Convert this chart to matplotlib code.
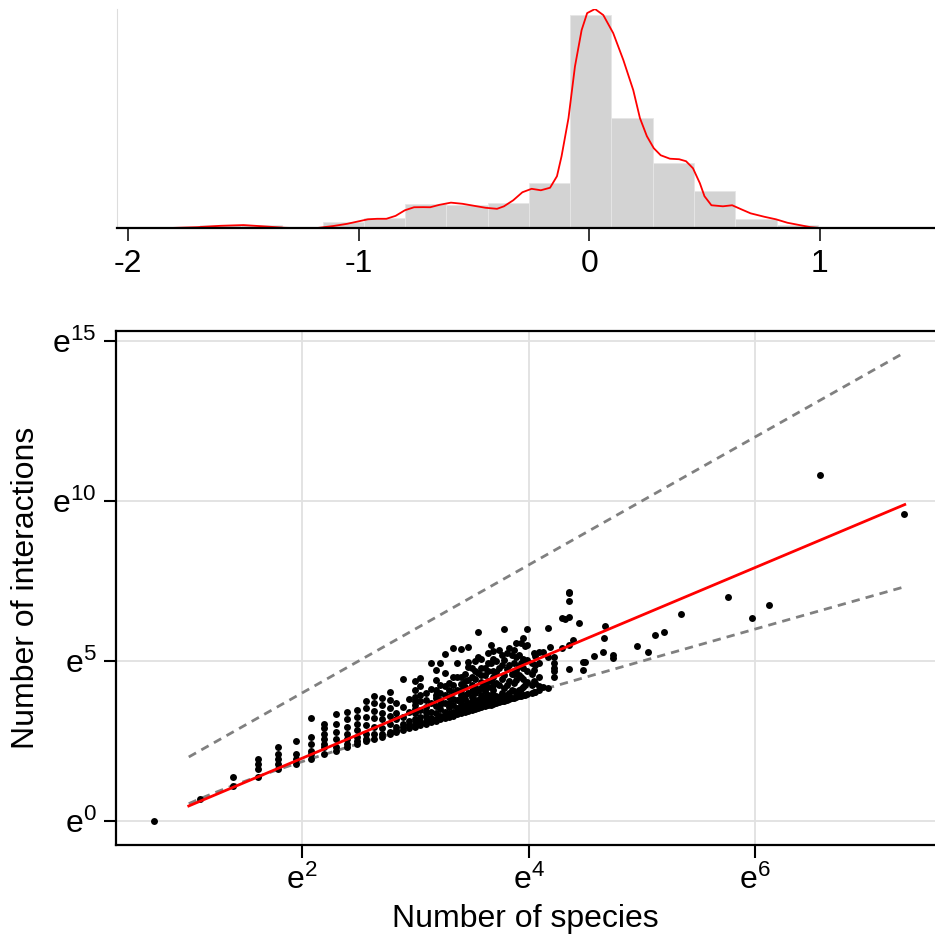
import numpy as np
import matplotlib
matplotlib.use("Agg")
import matplotlib.pyplot as plt
from matplotlib import rcParams

rcParams["font.family"] = ["Liberation Sans", "DejaVu Sans"]
rcParams["mathtext.fontset"] = "custom"
rcParams["mathtext.rm"] = "Liberation Sans"
rcParams["font.size"] = 23

RED = "#ff0000"
GREY = "#808080"

# ---- top panel: distribution (densities) ----------------------------------
bin_edges = [-1.69, -1.512, -1.334, -1.156, -0.977, -0.799, -0.620, -0.441,
             -0.262, -0.083, 0.096, 0.275, 0.454, 0.633, 0.813, 0.993]
bin_density = [0.032, 0.032, 0.0, 0.057, 0.100, 0.236, 0.220, 0.245,
               0.430, 2.034, 1.057, 0.624, 0.356, 0.089, 0.032]

kde_x = [-2.05, -1.85, -1.70, -1.60, -1.50, -1.40, -1.32, -1.25, -1.18, -1.11,
         -1.05, -1.00, -0.96, -0.92, -0.88, -0.84, -0.80, -0.76, -0.72, -0.69,
         -0.65, -0.60, -0.55, -0.50, -0.45, -0.40, -0.37, -0.33, -0.29, -0.25,
         -0.21, -0.17, -0.14, -0.12, -0.09, -0.062, -0.033, -0.009, 0.025,
         0.061, 0.104, 0.148, 0.191, 0.22, 0.25, 0.28, 0.31, 0.35, 0.39, 0.42,
         0.45, 0.48, 0.50, 0.53, 0.58, 0.62, 0.66, 0.70, 0.76, 0.81, 0.86,
         0.91, 0.96, 1.00, 1.05]
kde_y = [0.0, 0.001, 0.011, 0.024, 0.031, 0.017, 0.005, 0.001, 0.003, 0.022,
         0.043, 0.067, 0.086, 0.091, 0.091, 0.119, 0.172, 0.201, 0.202, 0.201,
         0.224, 0.245, 0.234, 0.215, 0.196, 0.186, 0.210, 0.267, 0.344, 0.377,
         0.363, 0.387, 0.497, 0.688, 1.051, 1.543, 1.891, 2.053, 2.092,
         2.034, 1.862, 1.605, 1.318, 1.051, 0.879, 0.764, 0.697, 0.664, 0.659,
         0.640, 0.573, 0.430, 0.306, 0.220, 0.210, 0.220, 0.181, 0.143, 0.110,
         0.086, 0.053, 0.032, 0.011, 0.003, 0.0]

# ---- bottom panel: species vs interactions, grouped by species count ------
col_species = [2, 3, 4, 5, 6, 7, 8, 9, 10, 11, 12, 13, 14, 15, 16, 17, 18, 19,
               20, 21, 22, 23, 24, 25, 26, 27, 28, 29, 30, 31, 32, 33, 34, 35,
               36, 37, 38, 39, 40, 41, 42, 43, 44, 45, 46, 47, 48, 49, 50, 51,
               52, 53, 54, 56, 57, 58, 60, 62, 65, 66, 68, 73, 75, 78, 81, 85,
               88, 90, 97, 105, 106, 107, 115, 142, 156, 167, 180, 210, 318,
               393, 457, 715, 1506]
col_interactions = [
    [1], [2], [3, 4], [4, 5, 6, 7], [5, 6, 7, 8, 10], [6, 7, 8, 12],
    [7, 8, 9, 11, 14, 25], [8, 10, 11, 13, 15, 18, 21],
    [9, 10, 13, 16, 21, 28], [10, 11, 13, 15, 19, 24, 30],
    [11, 12, 14, 17, 21, 26, 32], [12, 13, 15, 20, 26, 34, 42],
    [13, 15, 19, 25, 31, 40, 50], [14, 15, 18, 24, 29, 38, 46],
    [15, 16, 21, 27, 34, 44, 57], [16, 17, 19, 24, 29, 40],
    [17, 19, 21, 26, 35, 84], [18, 20, 23, 30, 45],
    [19, 21, 24, 29, 33, 38, 42, 48, 60, 80],
    [20, 22, 26, 32, 42, 51, 67, 86],
    [21, 23, 27, 30, 35, 44, 55], [22, 25, 30, 40, 62, 138],
    [23, 24, 29, 36, 46, 52, 60, 82, 112],
    [24, 27, 33, 38, 44, 55, 70, 138],
    [25, 26, 30, 40, 51, 67, 101, 185], [26, 29, 35, 40, 48, 60, 75],
    [27, 30, 38, 45, 56, 70, 90, 220], [28, 30, 34, 44, 60, 91, 138],
    [29, 32, 36, 40, 46, 52, 60, 72, 90, 215],
    [30, 34, 38, 45, 52, 65, 80, 100],
    [31, 33, 40, 54, 82, 124, 145, 232], [32, 36, 42, 48, 58, 70, 90, 120],
    [33, 38, 44, 55, 66, 85, 110, 150],
    [34, 37, 44, 60, 101, 170, 371],
    [35, 40, 46, 52, 64, 78, 95, 120, 160],
    [36, 42, 48, 58, 70, 95, 120],
    [37, 45, 52, 66, 80, 110, 140, 190],
    [38, 41, 51, 82, 138, 245],
    [39, 46, 52, 60, 70, 90, 110, 160, 200],
    [40, 50, 75, 105, 150],
    [41, 48, 70, 120, 210], [42, 55, 85, 130, 180],
    [43, 49, 63, 96, 153, 400], [44, 52, 70, 115, 190],
    [45, 55, 80, 130, 220], [46, 60, 100, 180],
    [47, 58, 75, 100, 140, 210],
    [48, 57, 82, 112, 170, 257], [49, 60, 95, 125, 180],
    [50, 62, 90, 140, 260], [51, 66, 85, 120, 160, 300], [52, 70, 240],
    [53, 77, 107, 153, 245, 400], [55, 70, 100, 140], [56, 80, 112, 190],
    [57, 75, 130, 175],
    [59, 67, 91, 138, 198], [65, 198], [64, 170, 411], [230],
    [91, 107, 118, 138, 170], [221, 560], [545],
    [117, 245, 590, 980, 1250, 1300], [283], [490], [112, 145], [145],
    [174], [194], [304], [446], [161, 179], [237], [196], [337], [368],
    [650], [1097], [573], [854], [50000], [14800],
]

# power-law fit: ln L = a + b ln S
fit_intercept = -1.02
fit_slope = 1.49
line_lnS_range = (1.0, 7.32)

species = np.concatenate([[s] * len(ls) for s, ls in
                          zip(col_species, col_interactions)]).astype(float)
interactions = np.concatenate(col_interactions).astype(float)

fig = plt.figure(figsize=(9.35, 9.47), dpi=100)

# ============================================================ top histogram
axh = fig.add_axes([0.1248, 0.7589, 0.8752, 0.2316])
axh.bar(bin_edges[:-1], bin_density, width=np.diff(bin_edges), align="edge",
        color="#d3d3d3", edgecolor="#e6e6e6", linewidth=0.6, zorder=1)
axh.plot(kde_x, kde_y, color=RED, lw=1.3, zorder=2)
axh.set_xlim(-2.05, 1.5)
axh.set_ylim(0, max(kde_y))
axh.set_yticks([])
axh.set_xticks([-2, -1, 0, 1])
axh.set_xticklabels(["-2", "-1", "0", "1"])
axh.tick_params(axis="x", direction="out", length=9, width=1.1, pad=6)
for side in ("top", "right"):
    axh.spines[side].set_visible(False)
axh.spines["left"].set_color("#dddddd")
axh.spines["left"].set_linewidth(0.8)
axh.spines["bottom"].set_linewidth(1.6)

# ============================================================ bottom scatter
ax = fig.add_axes([0.1241, 0.1077, 0.8759, 0.5428])
ax.grid(True, color="#e1e1e1", lw=1.3)
ax.set_axisbelow(True)

ln_s = np.linspace(line_lnS_range[0], line_lnS_range[1], 120)
s_line = np.exp(ln_s)
ax.plot(ln_s, 2 * ln_s, color=GREY, lw=2, ls=(0, (3.0, 2.2)), zorder=2)
ax.plot(ln_s, np.log(s_line - 1), color=GREY, lw=2, ls=(0, (3.0, 2.2)),
        zorder=2)
ax.scatter(np.log(species), np.log(interactions), s=25, color="black",
           linewidths=0, zorder=3)
ax.plot(ln_s, fit_intercept + fit_slope * ln_s, color=RED, lw=2, zorder=4)

ax.set_xlim(0.358, 7.587)
ax.set_ylim(-0.75, 15.31)
ax.set_xticks([2, 4, 6])
ax.set_xticklabels([r"$\mathregular{e^{%d}}$" % v for v in (2, 4, 6)])
ax.set_yticks([0, 5, 10, 15])
ax.set_yticklabels([r"$\mathregular{e^{%d}}$" % v for v in (0, 5, 10, 15)])
ax.tick_params(direction="out", length=9, width=1.5, pad=5)
ax.spines["right"].set_visible(False)
for side in ("top", "left", "bottom"):
    ax.spines[side].set_linewidth(1.6)
ax.set_xlabel("Number of species", labelpad=6)
ax.set_ylabel("Number of interactions", labelpad=8)

fig.savefig("out.png", dpi=100)
